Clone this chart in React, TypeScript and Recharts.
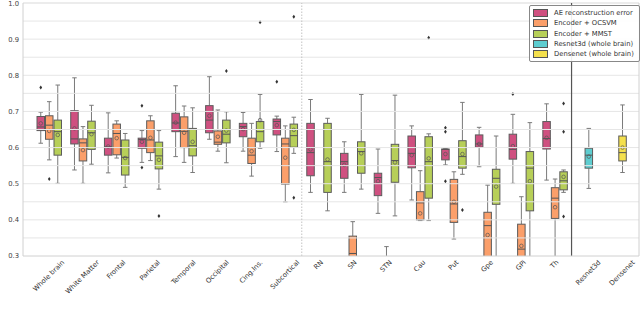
import React from "react";
import { ComposedChart, Bar, XAxis, YAxis, ReferenceLine } from "recharts";

// [whisker low, q1, median, q3, whisker high, mean]
type Stats = [number, number, number, number, number, number];

const categories = [
  "Whole brain", "White Matter", "Frontal", "Parietal", "Temporal", "Occipital",
  "Cing.Ins.", "Subcortical", "RN", "SN", "STN", "Cau", "Put", "Gpe", "GPi", "Th",
  "Resnet3d", "Densenet",
];

const aeStats: Stats[] = [
  [0.612, 0.647, 0.657, 0.686, 0.698, 0.667],
  [0.538, 0.61, 0.624, 0.702, 0.793, 0.653],
  [0.53, 0.579, 0.602, 0.626, 0.696, 0.603],
  [0.559, 0.598, 0.622, 0.626, 0.647, 0.616],
  [0.575, 0.644, 0.668, 0.695, 0.771, 0.669],
  [0.623, 0.641, 0.676, 0.716, 0.796, 0.688],
  [0.59, 0.63, 0.658, 0.667, 0.697, 0.651],
  [0.589, 0.635, 0.672, 0.679, 0.687, 0.662],
  [0.476, 0.522, 0.586, 0.667, 0.733, 0.595],
  [0.476, 0.515, 0.561, 0.584, 0.616, 0.552],
  [0.418, 0.467, 0.517, 0.529, 0.596, 0.507],
  [0.455, 0.544, 0.584, 0.632, 0.66, 0.579],
  [0.552, 0.566, 0.595, 0.596, 0.597, 0.582],
  [0.547, 0.601, 0.61, 0.635, 0.656, 0.61],
  [0.501, 0.568, 0.595, 0.637, 0.692, 0.604],
  [0.51, 0.596, 0.625, 0.672, 0.721, 0.627],
];
const aeFliers: number[][] = [
  [0.766], [], [], [0.716, 0.545], [], [], [], [0.782],
  [], [], [], [], [0.655, 0.644, 0.507], [], [0.748], [],
];

const ocsvmStats: (Stats | null)[] = [
  [0.566, 0.623, 0.662, 0.688, 0.727, 0.646],
  [0.501, 0.563, 0.613, 0.624, 0.658, 0.593],
  [0.571, 0.58, 0.639, 0.665, 0.674, 0.626],
  [0.564, 0.586, 0.621, 0.674, 0.688, 0.627],
  [0.559, 0.6, 0.645, 0.685, 0.715, 0.641],
  [0.59, 0.609, 0.615, 0.646, 0.704, 0.63],
  [0.521, 0.556, 0.579, 0.626, 0.667, 0.59],
  [0.45, 0.499, 0.61, 0.626, 0.66, 0.572],
  null,
  [0.18, 0.25, 0.307, 0.355, 0.395, 0.29],
  [0.14, 0.19, 0.23, 0.27, 0.326, 0.235],
  [0.398, 0.4, 0.447, 0.478, 0.536, 0.418],
  [0.347, 0.393, 0.444, 0.512, 0.533, 0.45],
  [0.18, 0.26, 0.384, 0.421, 0.496, 0.358],
  [0.15, 0.22, 0.319, 0.388, 0.464, 0.328],
  [0.25, 0.404, 0.46, 0.489, 0.513, 0.435],
];
const ocsvmFliers: number[][] = [
  [0.513], [], [], [], [], [], [], [],
  [], [], [], [], [], [], [], [],
];

const mmstStats: Stats[] = [
  [0.501, 0.579, 0.644, 0.676, 0.773, 0.635],
  [0.554, 0.595, 0.641, 0.673, 0.717, 0.637],
  [0.49, 0.524, 0.573, 0.621, 0.639, 0.571],
  [0.485, 0.541, 0.577, 0.615, 0.647, 0.566],
  [0.531, 0.577, 0.605, 0.653, 0.71, 0.616],
  [0.558, 0.613, 0.637, 0.676, 0.699, 0.647],
  [0.598, 0.616, 0.644, 0.672, 0.747, 0.676],
  [0.584, 0.601, 0.633, 0.665, 0.684, 0.649],
  [0.425, 0.476, 0.561, 0.667, 0.681, 0.567],
  [0.485, 0.529, 0.589, 0.616, 0.747, 0.584],
  [0.411, 0.504, 0.564, 0.609, 0.745, 0.559],
  [0.398, 0.46, 0.561, 0.63, 0.638, 0.57],
  [0.526, 0.543, 0.575, 0.619, 0.725, 0.582],
  [0.25, 0.443, 0.515, 0.54, 0.632, 0.492],
  [0.25, 0.425, 0.543, 0.589, 0.669, 0.507],
  [0.476, 0.483, 0.508, 0.533, 0.538, 0.519],
];
const mmstFliers: number[][] = [
  [], [], [], [0.411], [], [0.812], [0.947], [0.962, 0.461],
  [], [], [], [0.904], [0.427], [], [], [0.722, 0.644, 0.409],
];

// whole-brain baselines
const resnetStats: Stats = [0.487, 0.543, 0.579, 0.598, 0.653, 0.575];
const densenetStats: Stats = [0.531, 0.563, 0.586, 0.632, 0.718, 0.6];

const yTicks = [0.3, 0.4, 0.5, 0.6, 0.7, 0.8, 0.9, 1.0];
const gridValues = [0.35, 0.4, 0.45, 0.5, 0.55, 0.6, 0.65, 0.7, 0.75, 0.8, 0.85, 0.9, 0.95];

const legendItems = [
  { name: "AE reconstruction error", color: "#cf5080" },
  { name: "Encoder + OCSVM", color: "#fb9f6a" },
  { name: "Encoder + MMST", color: "#b7cf58" },
  { name: "Resnet3d (whole brain)", color: "#5ecdd0" },
  { name: "Densenet (whole brain)", color: "#f4e04d" },
];

const FONT = "'DejaVu Sans', sans-serif";
const FS = 6.8;

const rows = categories.map((name, i) => {
  const isBase = i >= 16;
  return {
    name,
    ae: isBase ? null : aeStats[i],
    aeF: isBase ? [] : aeFliers[i],
    aeC: legendItems[0].color,
    mid: isBase ? (i === 16 ? resnetStats : densenetStats) : ocsvmStats[i],
    midF: isBase ? [] : ocsvmFliers[i],
    midC: i === 16 ? legendItems[3].color : i === 17 ? legendItems[4].color : legendItems[1].color,
    mmst: isBase ? null : mmstStats[i],
    mmstF: isBase ? [] : mmstFliers[i],
    mmstC: legendItems[2].color,
  };
});

const range = (key: string) => (d: any) => (d[key] ? [d[key][0], d[key][4]] : null);

const makeBox = (key: string) => (props: any) => {
  const { x, y, width, height, payload } = props;
  const s = payload[key] as Stats | null;
  if (!s || !height) return <g />;
  const [lo, q1, med, q3, hi, mean] = s;
  const py = (v: number) => y + (height * (hi - v)) / (hi - lo);
  const cx = x + width / 2;
  const cap = width * 0.3;
  const fliers: number[] = payload[key + "F"] || [];
  return (
    <g>
      <line x1={cx} x2={cx} y1={py(hi)} y2={py(q3)} stroke="#7a7a7a" strokeWidth={1} />
      <line x1={cx} x2={cx} y1={py(q1)} y2={py(lo)} stroke="#7a7a7a" strokeWidth={1} />
      <line x1={cx - cap} x2={cx + cap} y1={py(hi)} y2={py(hi)} stroke="#7a7a7a" strokeWidth={1} />
      <line x1={cx - cap} x2={cx + cap} y1={py(lo)} y2={py(lo)} stroke="#7a7a7a" strokeWidth={1} />
      <rect x={x} y={py(q3)} width={width} height={py(q1) - py(q3)} fill={payload[key + "C"]} stroke="#5c5c5c" strokeWidth={1} />
      <line x1={x} x2={x + width} y1={py(med)} y2={py(med)} stroke="#555" strokeWidth={1} />
      <circle cx={cx} cy={py(mean)} r={1.8} fill="none" stroke="#555" strokeWidth={0.7} />
      {fliers.map((f, j) => (
        <polygon
          key={j}
          points={`${cx},${py(f) - 2} ${cx + 1.4},${py(f)} ${cx},${py(f) + 2} ${cx - 1.4},${py(f)}`}
          fill="#333"
        />
      ))}
    </g>
  );
};

let ctx: CanvasRenderingContext2D | null = null;
const measure = (t: string) => {
  if (!ctx) ctx = document.createElement("canvas").getContext("2d");
  if (!ctx) return t.length * FS * 0.6;
  ctx.font = `${FS}px 'DejaVu Sans'`;
  return ctx.measureText(t).width;
};

const XTick = (props: any) => {
  const { x, y, payload } = props;
  const label = String(payload.value);
  const half = 0.354 * (measure(label) + FS);
  const cy = y + half;
  return (
    <text
      x={x}
      y={cy}
      transform={`rotate(-45 ${x} ${cy})`}
      textAnchor="middle"
      dominantBaseline="central"
      fontSize={FS}
      fontFamily={FONT}
      fill="#333"
      stroke="none"
    >
      {label}
    </text>
  );
};

const Legend = () => (
  <div
    style={{
      position: "absolute",
      left: 529,
      top: 5,
      width: 106,
      padding: "2px 0 2px 3px",
      background: "rgba(255,255,255,0.9)",
      border: "1px solid #888",
      borderRadius: 2,
      fontFamily: FONT,
      fontSize: FS,
      color: "#333",
    }}
  >
    {legendItems.map((it) => (
      <div key={it.name} style={{ display: "flex", alignItems: "center", height: 10.3 }}>
        <span
          style={{
            display: "inline-block",
            width: 13,
            height: 6,
            background: it.color,
            border: "1px solid #555",
            marginRight: 6,
          }}
        />
        <span style={{ whiteSpace: "nowrap" }}>{it.name}</span>
      </div>
    ))}
  </div>
);

export default function App() {
  return (
    <div style={{ position: "absolute", left: 0, top: 0, width: 640, height: 313, background: "#fff" }}>
      <ComposedChart
        width={640}
        height={313}
        data={rows}
        margin={{ top: 3, right: 1, bottom: 0, left: 0 }}
        barSize={7.5}
        barGap={1}
      >
        {gridValues.map((v) => (
          <ReferenceLine key={v} y={v} stroke="#e6e6e6" strokeWidth={1} />
        ))}
        <ReferenceLine y={1.0} stroke="#d9d9d9" strokeWidth={1} />
        <XAxis
          dataKey="name"
          interval={0}
          padding={{ left: 9, right: 0 }}
          height={57}
          tickSize={0}
          tickMargin={3}
          tickLine={false}
          axisLine={{ stroke: "#d0d0d0" }}
          tick={<XTick />}
        />
        <YAxis
          type="number"
          domain={[0.3, 1.0]}
          allowDataOverflow
          ticks={yTicks}
          width={23}
          tickSize={0}
          tickMargin={4}
          tickLine={false}
          axisLine={{ stroke: "#d0d0d0" }}
          tick={{ fontSize: FS, fontFamily: FONT, fill: "#444" }}
          tickFormatter={(v: number) => v.toFixed(1)}
        />
        <ReferenceLine x="Densenet" position="end" stroke="#d0d0d0" strokeWidth={1} />
        <Bar dataKey={range("ae")} shape={makeBox("ae")} isAnimationActive={false} />
        <Bar dataKey={range("mid")} shape={makeBox("mid")} isAnimationActive={false} />
        <Bar dataKey={range("mmst")} shape={makeBox("mmst")} isAnimationActive={false} />
        <ReferenceLine x="RN" position="start" stroke="#c4c4c4" strokeWidth={1} strokeDasharray="1.5 1.5" />
        <ReferenceLine x="Resnet3d" position="start" stroke="#555" strokeWidth={1.2} />
      </ComposedChart>
      <Legend />
    </div>
  );
}
